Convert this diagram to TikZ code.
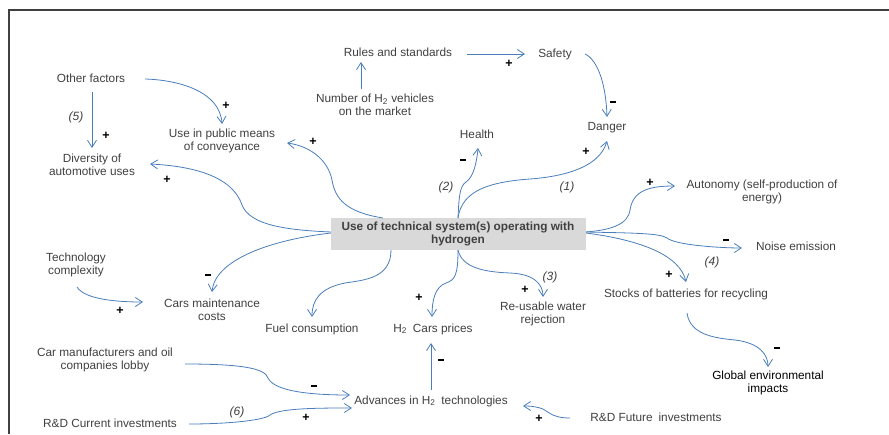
\documentclass[tikz,border=0pt]{standalone}
\usepackage{fontspec}
\setmainfont{Liberation Sans}
\usetikzlibrary{arrows.meta}

\definecolor{linkblue}{HTML}{4A7EBB}
\definecolor{txtgray}{HTML}{404040}
\definecolor{boxgray}{HTML}{D9D9D9}

\newcommand{\mns}{\rule[2.6pt]{5.5pt}{1.8pt}}

\tikzset{
  lbl/.style={text=txtgray, font=\fontsize{11.8}{12.5}\selectfont, align=center, inner sep=1pt},
  core/.style={fill=boxgray, text=txtgray, font=\fontsize{11.8}{12.5}\selectfont\bfseries, align=center, minimum width=255pt, minimum height=32pt},
  link/.style={draw=linkblue, line width=0.8pt, -{Straight Barb[length=7pt,width=9pt]}},
  sgn/.style={font=\fontsize{12.5}{13}\selectfont\bfseries, inner sep=0pt},
  loopno/.style={text=txtgray, font=\fontsize{12}{13}\selectfont\itshape, inner sep=0pt}
}

\begin{document}
\begin{tikzpicture}[x=1pt, y=-1pt]

    \useasboundingbox (0,0) rectangle (889,434);
    \draw[txtgray, line width=1.3pt] (9,434) -- (9,10) -- (889,10);

    \node[lbl] (ofac) at (91,78) {Other factors};
    \node[lbl] (rules) at (398,52) {Rules and standards};
    \node[lbl] (safety) at (555,54) {Safety};
    \node[lbl] (nveh) at (375,105) {Number of H\textsubscript{2} vehicles\\on the market};
    \node[lbl] (pub) at (222,141) {Use in public means\\of conveyance};
    \node[lbl] (div) at (92,165) {Diversity of\\automotive uses};
    \node[lbl] (health) at (477,134) {Health};
    \node[lbl] (danger) at (607,128) {Danger};
    \node[lbl] (auto) at (762,192) {Autonomy (self-production of\\energy)};
    \node[core] (core) at (458,234) {Use of technical system(s) operating with\\hydrogen};
    \node[lbl] (tech) at (76,265) {Technology\\complexity};
    \node[lbl] (maint) at (212,310) {Cars maintenance\\costs};
    \node[lbl] (fuel) at (312,329) {Fuel consumption};
    \node[lbl] (price) at (433,329) {H\textsubscript{2}\enspace Cars prices};
    \node[lbl] (water) at (543,314) {Re-usable water\\rejection};
    \node[lbl] (noise) at (796,246) {Noise emission};
    \node[lbl] (stock) at (686,294) {Stocks of batteries for recycling};
    \node[lbl, text=black] (glob) at (768,383) {Global environmental\\impacts};
    \node[lbl] (lobby) at (105,360) {Car manufacturers and oil\\companies lobby};
    \node[lbl] (adv) at (431,401) {Advances in H\textsubscript{2}\enspace technologies};
    \node[lbl] (rdc) at (110,423) {R\&D Current investments};
    \node[lbl] (rdf) at (656,417) {R\&D Future\enspace investments};

    \draw[link] ([shift={(1,14)}]ofac.center) -- ([shift={(0,-17)}]div.center);
    \draw[link] ([shift={(54,1)}]ofac.center) .. controls (180,80) and (220,92) .. ([shift={(0,-17)}]pub.center);
    \draw[link] ([shift={(-14,-16)}]nveh.center) -- ([shift={(-37,10)}]rules.center);
    \draw[link] ([shift={(69,2)}]rules.center) -- ([shift={(-30,0)}]safety.center);
    \draw[link] ([shift={(30,0)}]safety.center) .. controls (598,60) and (606,85) .. ([shift={(0,-11)}]danger.center);
    \draw[link] ([shift={(0,-16)}]core.center) .. controls (459,195) and (460,186) .. (466,182) .. controls (474,177) and (477,160) .. ([shift={(1,14)}]health.center);
    \draw[link] ([shift={(0,-16)}]core.center) .. controls (462,190) and (490,182) .. (530,179) .. controls (570,176) and (600,165) .. ([shift={(0,13)}]danger.center);
    \draw[link] ([shift={(-75,-16)}]core.center) .. controls (345,212) and (335,198) .. (332,180) .. controls (328,160) and (310,146) .. ([shift={(65,2)}]pub.center);
    \draw[link] ([shift={(-127,-2)}]core.center) .. controls (285,230) and (250,225) .. (242,205) .. controls (232,175) and (190,166) .. ([shift={(58,-1)}]div.center);
    \draw[link] ([shift={(-127,-1)}]core.center) .. controls (270,240) and (215,260) .. ([shift={(0,-18)}]maint.center);
    \draw[link] ([shift={(1,22)}]tech.center) .. controls (85,300) and (120,302) .. ([shift={(-69,-8)}]maint.center);
    \draw[link] ([shift={(-67,16)}]core.center) .. controls (391,278) and (365,280) .. (345,283) .. controls (320,288) and (312,300) .. ([shift={(0,-12)}]fuel.center);
    \draw[link] ([shift={(0,16)}]core.center) .. controls (458,275) and (455,280) .. (446,283) .. controls (435,287) and (432,300) .. ([shift={(-1,-12)}]price.center);
    \draw[link] ([shift={(0,16)}]core.center) .. controls (462,268) and (485,272) .. (510,273) .. controls (535,274) and (543,285) .. ([shift={(0,-17)}]water.center);
    \draw[link] ([shift={(128,-2)}]core.center) .. controls (610,230) and (628,225) .. (630,210) .. controls (633,190) and (650,186) .. ([shift={(-87,-6)}]auto.center);
    \draw[link] ([shift={(128,-2)}]core.center) .. controls (630,233) and (660,233) .. (667,238) .. controls (675,245) and (720,248) .. ([shift={(-54,2)}]noise.center);
    \draw[link] ([shift={(128,-1)}]core.center) .. controls (640,240) and (680,255) .. ([shift={(0,-12)}]stock.center);
    \draw[link] ([shift={(1,19)}]stock.center) .. controls (690,335) and (715,338) .. (735,340) .. controls (760,343) and (768,355) .. ([shift={(0,-16)}]glob.center);
    \draw[link] ([shift={(0,-11)}]adv.center) -- ([shift={(-2,14)}]price.center);
    \draw[link] ([shift={(80,4)}]lobby.center) .. controls (240,364) and (265,368) .. (268,378) .. controls (275,393) and (320,395) .. ([shift={(-81,-6)}]adv.center);
    \draw[link] ([shift={(79,1)}]rdc.center) .. controls (230,424) and (265,420) .. (270,415) .. controls (280,408) and (320,408) .. ([shift={(-79,7)}]adv.center);
    \draw[link] ([shift={(-86,1)}]rdf.center) .. controls (550,418) and (548,410) .. (540,408) .. controls (533,406) and (528,406) .. ([shift={(92,5)}]adv.center);

    \foreach \x/\y/\s [count=\i] in {106/136/+, 226/106/+, 509/64/+, 613/103/\mns, 463/161/\mns,
        586/152/+, 313/142/+, 167/180/+, 208/276/\mns, 120/311/+, 419/298/+, 525/290/+,
        650/183/+, 726/241/\mns, 669/275/+, 777/349/\mns, 441/361/\mns, 314/387/\mns, 306/418/+, 539/419/+}
        \node[sgn] (sg\i) at (\x,\y) {\s};

    \foreach \x/\y/\n in {567/187/1, 446/187/2, 550/277/3, 712/262/4, 76/117/5, 237/412/6}
        \node[loopno] (lp\n) at (\x,\y) {(\n)};

\end{tikzpicture}
\end{document}
